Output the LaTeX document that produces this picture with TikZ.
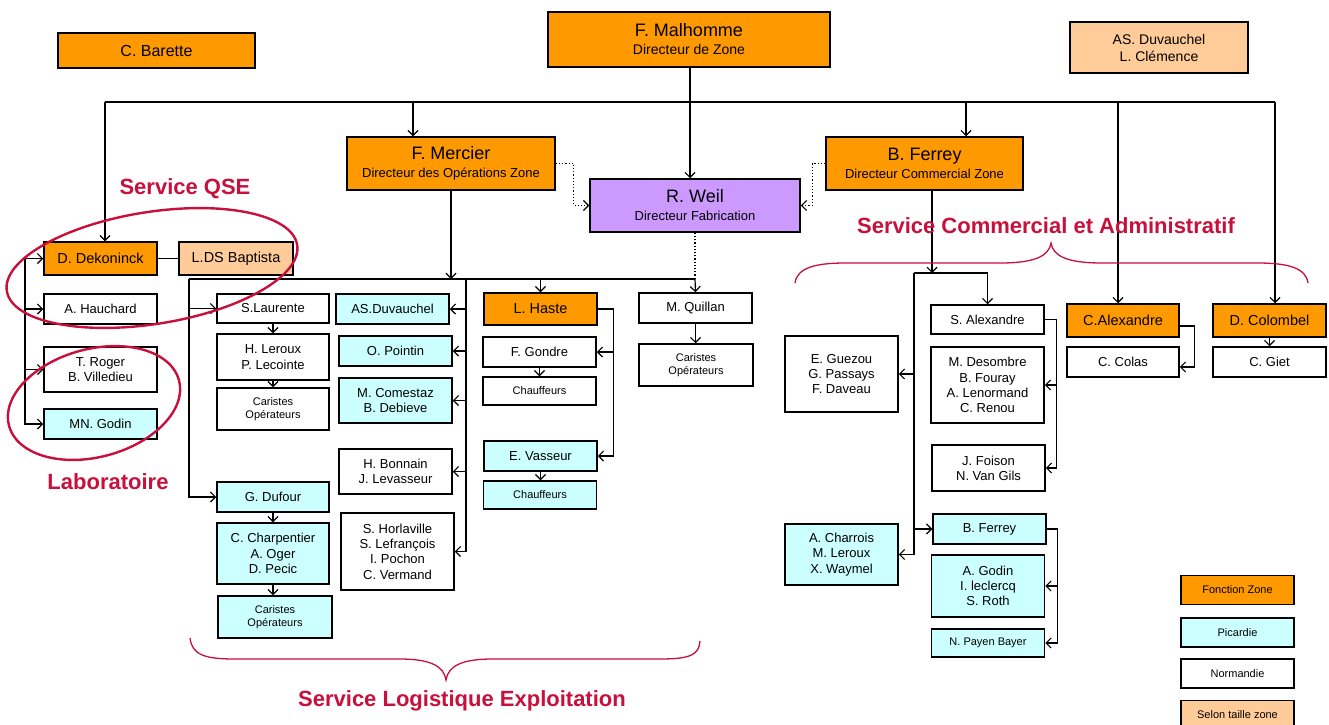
\documentclass[tikz,border=0pt]{standalone}
\usepackage{fontspec}
\setmainfont{Liberation Sans}
\usetikzlibrary{arrows.meta}

\definecolor{zone}{RGB}{255,153,0}
\definecolor{picardie}{RGB}{204,255,255}
\definecolor{selon}{RGB}{255,204,153}
\definecolor{fabric}{RGB}{204,153,255}
\definecolor{service}{RGB}{200,16,60}

\begin{document}
\begin{tikzpicture}[x=1pt,y=-1pt]
	
	\useasboundingbox (0,0) rectangle (1329,724);
	
	\tikzset{card/.style={draw,line width=1.5pt,fill=white,inner sep=1pt,align=center,minimum width=113pt,minimum height=30pt,font=\fontsize{13}{15.3}\selectfont}}
	\tikzset{zonecard/.style={card,fill=zone,font=\fontsize{14.5}{16}\selectfont}}
	\tikzset{piccard/.style={card,fill=picardie}}
	\tikzset{smalltxt/.style={font=\fontsize{11}{13.3}\selectfont}}
	\tikzset{dirbox/.style={card,font=\fontsize{13}{18}\selectfont}}
	\tikzset{wire/.style={line width=1.2pt}}
	\tikzset{servlbl/.style={text=service,font=\fontsize{22}{24}\selectfont\bfseries}}
	\tikzset{ring/.style={draw=service,line width=2.4pt}}
	\tikzset{servbrace/.style={draw=service,line width=1.3pt}}
	\tikzset{>={Straight Barb[length=5pt,width=10pt]}}
	
	% direction
	
	\node[zonecard,minimum width=197pt,minimum height=35pt,font=\fontsize{16}{18}\selectfont] (barette) at (156.5,50.5) {C. Barette};
	\node[dirbox,fill=zone,minimum width=282pt,minimum height=55pt,font=\fontsize{14}{18}\selectfont] (malhomme) at (689,39.5) {{\fontsize{18}{18}\selectfont F. Malhomme}\\Directeur de Zone};
	\node[card,fill=selon,minimum width=178pt,minimum height=51pt,font=\fontsize{14}{17}\selectfont] (duvauchelA) at (1159,47.5) {AS. Duvauchel\\L. Clémence};
	
	\node[dirbox,fill=zone,minimum width=208pt,minimum height=53pt] (mercier) at (451,163.5) {{\fontsize{18}{18}\selectfont F. Mercier}\\Directeur des Opérations Zone};
	\node[dirbox,fill=fabric,minimum width=210pt,minimum height=53pt] (weil) at (695,205.5) {{\fontsize{18}{18}\selectfont R. Weil}\\Directeur Fabrication};
	\node[dirbox,fill=zone,minimum width=197pt,minimum height=53pt] (ferreyD) at (924.5,163.5) {{\fontsize{18}{18}\selectfont B. Ferrey}\\Directeur Commercial Zone};
	
	% QSE et laboratoire
	
	\node[zonecard,minimum height=33pt] (dekoninck) at (100.5,258.5) {D. Dekoninck};
	\node[zonecard,fill=selon,minimum width=114pt,minimum height=33pt] (baptista) at (236,258.5) {L.DS Baptista};
	\node[card] (hauchard) at (100.5,309) {A. Hauchard};
	\node[card,minimum height=45pt] (roger) at (100.5,369.5) {T. Roger\\B. Villedieu};
	\node[piccard] (godin) at (100.5,424) {MN. Godin};
	
	% logistique exploitation
	
	\node[card,minimum width=112pt,minimum height=29pt] (laurente) at (273,308.5) {S.Laurente};
	\node[card,minimum width=112pt,minimum height=46pt] (leroux) at (273,357) {H. Leroux\\P. Lecointe};
	\node[card,smalltxt,minimum width=112pt,minimum height=42pt] (caristesA) at (273,409) {Caristes\\Opérateurs};
	\node[piccard,minimum width=112pt] (dufour) at (273,497) {G. Dufour};
	\node[piccard,minimum width=112pt,minimum height=61pt] (charpentier) at (273,553.5) {C. Charpentier\\A. Oger\\D. Pecic};
	\node[piccard,smalltxt,minimum width=114pt,minimum height=42pt] (caristesB) at (275,617) {Caristes\\Opérateurs};
	
	\node[piccard] (duvauchelB) at (392.5,309) {AS.Duvauchel};
	\node[piccard] (pointin) at (395.5,351) {O. Pointin};
	\node[piccard,minimum height=45pt] (comestaz) at (395.5,400.5) {M. Comestaz\\B. Debieve};
	\node[card,minimum height=45pt] (bonnain) at (395.5,471.5) {H. Bonnain\\J. Levasseur};
	\node[card,minimum height=77pt] (horlaville) at (397.5,551.5) {S. Horlaville\\S. Lefrançois\\I. Pochon\\C. Vermand};
	
	\node[zonecard,minimum height=32pt] (haste) at (540.5,309) {L. Haste};
	\node[card] (gondre) at (539.5,352) {F. Gondre};
	\node[card,smalltxt,minimum height=28pt] (chauffA) at (539.5,391) {Chauffeurs};
	\node[piccard] (vasseur) at (540.5,456) {E. Vasseur};
	\node[piccard,smalltxt,minimum height=28pt] (chauffB) at (540,495) {Chauffeurs};
	
	\node[card] (quillan) at (695.5,308) {M. Quillan};
	\node[card,smalltxt,minimum width=114pt,minimum height=42pt] (caristesC) at (696,365) {Caristes\\Opérateurs};
	
	% commercial et administratif
	
	\node[card,minimum height=76pt] (guezou) at (841.5,374) {E. Guezou\\G. Passays\\F. Daveau};
	\node[piccard,minimum height=61pt] (charrois) at (841.5,554.5) {A. Charrois\\M. Leroux\\X. Waymel};
	\node[card,minimum height=29pt] (alexandreS) at (987.5,319.5) {S. Alexandre};
	\node[card,minimum height=76pt] (desombre) at (987.5,385) {M. Desombre\\B. Fouray\\A. Lenormand\\C. Renou};
	\node[card,minimum height=46pt] (foison) at (988.5,468) {J. Foison\\N. Van Gils};
	\node[piccard] (ferreyC) at (989.5,529) {B. Ferrey};
	\node[piccard,minimum height=62pt] (agodin) at (988,586) {A. Godin\\I. leclercq\\S. Roth};
	\node[piccard,smalltxt,minimum height=28pt] (payen) at (988,643) {N. Payen Bayer};
	\node[zonecard,minimum width=112pt,minimum height=33pt] (alexandreC) at (1123,320.5) {C.Alexandre};
	\node[card,minimum width=112pt] (colas) at (1123,362) {C. Colas};
	\node[zonecard,minimum height=33pt] (colombel) at (1269.5,320.5) {D. Colombel};
	\node[card] (giet) at (1269.5,362) {C. Giet};
	
	% legende
	
	\foreach \nm/\col/\txt/\y in {lgZone/zone/Fonction Zone/590,lgPic/picardie/Picardie/632.5,lgNor/white/Normandie/673.5,lgSel/selon/Selon taille zone/715}
		\node[card,smalltxt,fill=\col,minimum height=29pt] (\nm) at (1237.5,\y) {\txt};
	
	% liaisons direction
	
	\coordinate (busL) at (105,102);
	\coordinate (busR) at (1275,102);
	\draw[wire] (busL) -- (busR);
	\draw[wire,->] ([xshift=1pt]malhomme.south) -- ([xshift=1pt]malhomme.south |- weil.north);
	\draw[wire,->] (busL) -- ([xshift=4.5pt]dekoninck.north);
	\draw[wire,->] ([xshift=-38pt]mercier.north |- busL) -- ([xshift=-38pt]mercier.north);
	\draw[wire,->] ([xshift=41.5pt]ferreyD.north |- busL) -- ([xshift=41.5pt]ferreyD.north);
	\draw[wire,->] ([xshift=-5pt]alexandreC.north |- busL) -- ([xshift=-5pt]alexandreC.north);
	\draw[wire,->] (busR) -- ([xshift=5.5pt]colombel.north);
	
	\draw[wire,dotted,->] (mercier.east) -- ++(18,0) |- (weil.west);
	\draw[wire,dotted,->] (ferreyD.west) -- ++(-13,0) |- (weil.east);
	
	% liaisons QSE
	
	\coordinate (qseT) at (25,258.5);
	\foreach \n in {dekoninck,hauchard,roger,godin}
		\draw[wire,->] (qseT) |- (\n.west);
	\draw[wire] (dekoninck) -- (baptista);
	
	% liaisons logistique
	
	\coordinate (opsL) at (189,279);
	\coordinate (opsM) at (466,279);
	\coordinate (opsR) at (695,279);
	\draw[wire] (opsL) -- (opsR);
	\draw[wire,->] (mercier.south) -- (mercier.south |- opsL);
	\draw[wire,dotted] (weil.south) -- (weil.south |- opsR);
	\draw[wire,->] (opsR) -- (quillan.north);
	\draw[wire,->] (haste.north |- opsL) -- (haste.north);
	\foreach \n in {laurente,dufour}
		\draw[wire,->] (opsL) |- (\n.west);
	\foreach \n in {duvauchelB,pointin,comestaz,bonnain,horlaville}
		\draw[wire,->] (opsM) |- (\n.east);
	\foreach \n in {gondre,vasseur}
		\draw[wire,->] (haste.east) -- ++(16,0) |- (\n.east);
	
	\foreach \a/\b in {laurente/leroux,leroux/caristesA,dufour/charpentier,charpentier/caristesB,gondre/chauffA,vasseur/chauffB,quillan/caristesC,colombel/giet}
		\draw[wire,->] (\a.south) -- (\a.south |- \b.north);
	
	% liaisons commercial
	
	\coordinate (comL) at (914,273);
	\coordinate (comR) at (987.5,273);
	\draw[wire,->] ([xshift=7.5pt]ferreyD.south) -- ([xshift=7.5pt]ferreyD.south |- comL);
	\draw[wire] (comL) -- (comR);
	\draw[wire,->] (comR) -- (alexandreS.north);
	\foreach \n in {guezou,charrois}
		\draw[wire,->] (comL) |- (\n.east);
	\draw[wire,->] (comL) |- (ferreyC.west);
	\foreach \n in {desombre,foison}
		\draw[wire,->] (alexandreS.east) -- ++(12,0) |- (\n.east);
	\foreach \n in {agodin,payen}
		\draw[wire,->] (ferreyC.east) -- ++(11,0) |- (\n.east);
	\draw[wire,->] ([yshift=-5.5pt]alexandreC.east) -- ++(15,0) |- ([yshift=-5pt]colas.east);
	
	% services
	
	\node[servlbl] (qselbl) at (185,189) {Service QSE};
	\node[servlbl] (lablbl) at (108,482) {Laboratoire};
	\node[servlbl] (loglbl) at (462,701) {Service Logistique Exploitation};
	\node[servlbl] (comlbl) at (1046,226) {Service Commercial et Administratif};
	
	\draw[ring,rotate around={9:(152,268)}] (152,268) ellipse [x radius=147pt, y radius=56pt];
	\draw[ring,rotate around={15:(94,403)}] (94,403) ellipse [x radius=88pt, y radius=54pt];
	
	\draw[servbrace] (190,638) .. controls (192,655) and (205,659) .. (235,659) -- (400,659) .. controls (430,659) and (444,666) .. (446,680) .. controls (448,666) and (462,659) .. (492,659) -- (660,659) .. controls (690,659) and (699,655) .. (700,641);
	\draw[servbrace] (795,283) .. controls (797,268) and (815,263) .. (845,263) -- (1000,263) .. controls (1035,263) and (1049,256) .. (1051,243) .. controls (1053,256) and (1067,263) .. (1102,263) -- (1258,263) .. controls (1288,263) and (1306,268) .. (1308,283);
	
\end{tikzpicture}
\end{document}
